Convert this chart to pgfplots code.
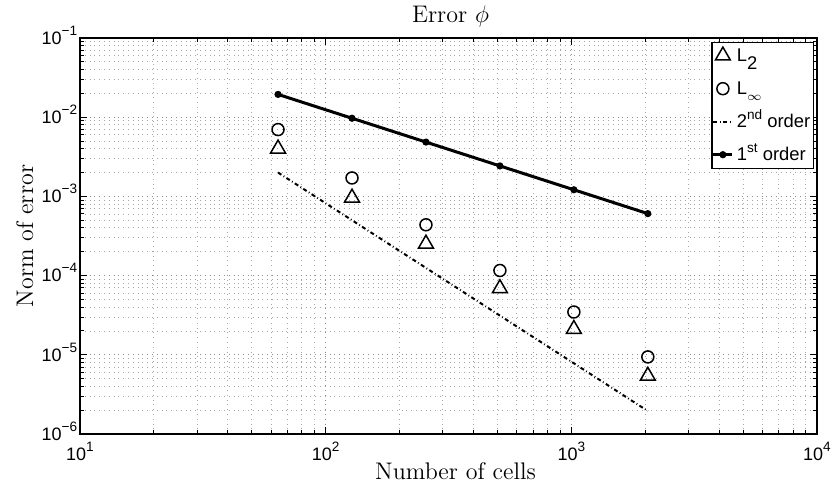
\documentclass[border=0pt]{standalone}
\usepackage{fontspec}
\usepackage{pgfplots}
\pgfplotsset{compat=1.18}
\newfontfamily\arial{Liberation Sans}
\newcommand\tk[1]{{\arial\fontsize{9}{10}\selectfont 10\raisebox{4.5pt}{\fontsize{6.8}{7}\selectfont #1}}}
\newcommand\lf{\arial\fontsize{9.2}{10}\selectfont}
\begin{document}
\begin{tikzpicture}
\useasboundingbox (-40pt,-28pt) rectangle (378pt,217pt);
\begin{axis}[
  xmode=log, ymode=log,
  scale only axis,
  width=368.5pt, height=198pt,
  xmin=10, xmax=10000, ymin=1e-6, ymax=1e-1,
  xtick={10,100,1000,10000},
  xticklabels={\tk{1},\tk{2},\tk{3},\tk{4}},
  minor xtick={20,30,40,50,60,70,80,90,200,300,400,500,600,700,800,900,2000,3000,4000,5000,6000,7000,8000,9000},
  ytick={1e-6,1e-5,1e-4,1e-3,1e-2,1e-1},
  yticklabels={\tk{−6},\tk{−5},\tk{−4},\tk{−3},\tk{−2},\tk{−1}},
  minor ytick={2e-6,3e-6,4e-6,5e-6,6e-6,7e-6,8e-6,9e-6,2e-5,3e-5,4e-5,5e-5,6e-5,7e-5,8e-5,9e-5,2e-4,3e-4,4e-4,5e-4,6e-4,7e-4,8e-4,9e-4,2e-3,3e-3,4e-3,5e-3,6e-3,7e-3,8e-3,9e-3,2e-2,3e-2,4e-2,5e-2,6e-2,7e-2,8e-2,9e-2},
  tick align=inside,
  major tick length=3.5pt, minor tick length=2pt,
  every tick/.style={black, line width=0.5pt},
  axis line style={line width=0.8pt},
  grid=both,
  major grid style={dotted, gray!90, line width=0.5pt},
  minor grid style={dotted, gray!70, line width=0.45pt},
  xticklabel style={anchor=base, yshift=-13.5pt, inner sep=0pt},
  yticklabel style={anchor=base east, inner xsep=1.25pt, inner ysep=0pt, yshift=-3.2pt},
  title={Error $\phi$},
  title style={at={(0.5,1)}, anchor=base, xshift=1pt, yshift=1.5pt, font=\fontsize{12}{14}\selectfont},
  xlabel={Number of cells},
  xlabel style={at={(axis description cs:0.5095,-0.11616)}, anchor=base, font=\fontsize{12}{14}\selectfont},
  ylabel={Norm of error},
  ylabel style={at={(axis description cs:-0.06377,0.5)}, anchor=base, rotate=0, font=\fontsize{12}{14}\selectfont},
  legend image code/.code={\draw[mark repeat=2,mark phase=2,#1] plot coordinates {(0pt,3pt) (4.75pt,3pt) (9.5pt,3pt)};},
  legend cell align=left,
  legend style={at={(1,1)}, anchor=north east, xshift=-1.5pt, yshift=-2pt,
    draw=black, line width=0.7pt, fill=white, font=\lf,
    inner xsep=0pt, inner ysep=1.5pt, row sep=6pt,
    nodes={inner xsep=1.5pt, inner ysep=1.5pt, text height=6.5pt, text depth=1pt, anchor=base west}},
]
\addplot[only marks, mark=triangle, mark size=4.3pt, mark options={line width=0.75pt, black}]
  coordinates {(64,4.0e-3) (128,9.6e-4) (256,2.52e-4) (512,6.9e-5) (1024,2.11e-5) (2048,5.42e-6)};
\addlegendentry{L\raisebox{-4pt}{2}}
\addplot[only marks, mark=o, mark size=3pt, mark options={line width=0.75pt, black}]
  coordinates {(64,6.98e-3) (128,1.71e-3) (256,4.38e-4) (512,1.16e-4) (1024,3.47e-5) (2048,9.4e-6)};
\addlegendentry{L\raisebox{-3pt}{\fontsize{6}{6}\selectfont$\infty$}}
\addplot[black, line width=1pt, dash pattern=on 2pt off 1.3pt on 0.4pt off 1.3pt, no markers]
  coordinates {(64,2.0e-3) (128,5.0e-4) (256,1.25e-4) (512,3.125e-5) (1024,7.81e-6) (2048,1.95e-6)};
\addlegendentry{2\raisebox{4pt}{\fontsize{6.8}{7}\selectfont nd} order}
\addplot[black, line width=1.5pt, mark=*, mark size=1pt]
  coordinates {(64,1.94e-2) (128,9.7e-3) (256,4.85e-3) (512,2.425e-3) (1024,1.2125e-3) (2048,6.06e-4)};
\addlegendentry{1\raisebox{4pt}{\fontsize{6.8}{7}\selectfont st} order}
\end{axis}
\end{tikzpicture}
\end{document}
